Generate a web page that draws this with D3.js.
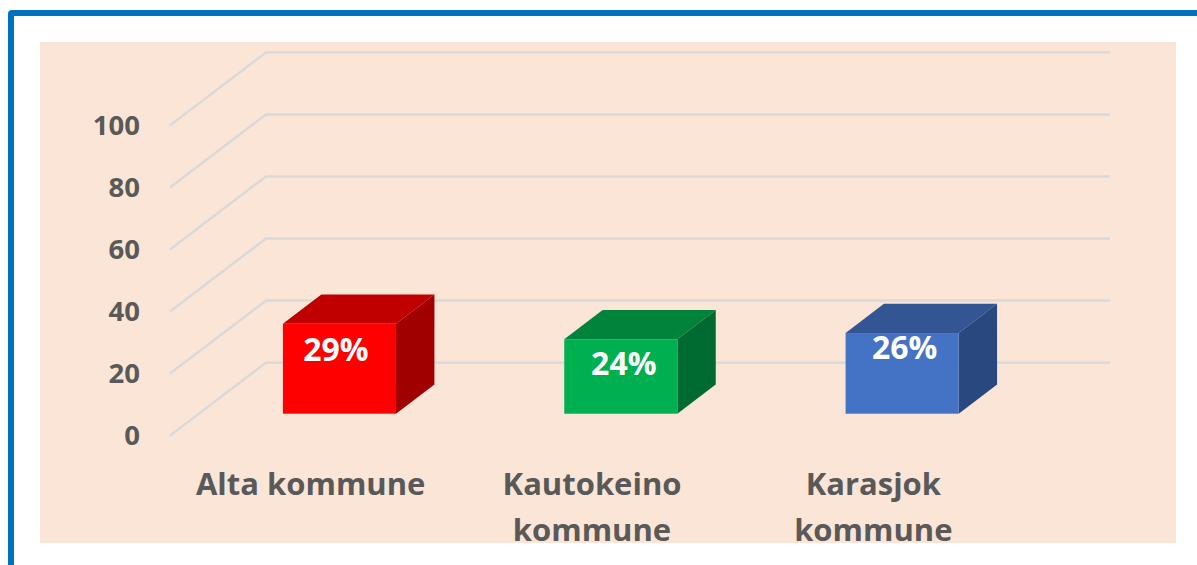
<!DOCTYPE html>
<html><head><meta charset="utf-8">
<script src="https://cdnjs.cloudflare.com/ajax/libs/d3/7.8.5/d3.min.js"></script>
<style>html,body{margin:0;padding:0;background:#fff;overflow:hidden}svg{display:block}
text{font-family:"Open Sans",sans-serif;font-weight:700}</style></head>
<body><svg id="c" width="1197" height="565"></svg>
<script>
const categories=[["Alta kommune"],["Kautokeino","kommune"],["Karasjok","kommune"]];
const values=[29,24,26];
const valueLabels=["29%","24%","26%"];
const tickValues=[0,20,40,60,80,100];
const frontColors=["#FF0000","#00B050","#4472C4"];
const topColors=["#C00000","#00843C","#335593"];
const sideColors=["#A00000","#006B30","#2A4880"];

const svg=d3.select("#c");
svg.append("defs").append("clipPath").attr("id","p").append("rect")
  .attr("x",40).attr("y",42).attr("width",1136).attr("height",501);
svg.append("path").attr("d","M10,565V13Q10,12 11,12H1197").attr("fill","none").attr("stroke","#0070C0").attr("stroke-width",6)
  .attr("transform","translate(1,1)");
svg.append("rect").attr("x",40).attr("y",42).attr("width",1136).attr("height",501).attr("fill","#FBE5D6");

const y=d3.scaleLinear().domain([0,100]).range([435.6,125.4]);
const x=d3.scaleBand().domain(d3.range(categories.length)).range([170,1014]).paddingInner(.598).paddingOuter(.299);
const depthX=96,depthY=-73,floorFrac=.3,barFrac=.4;
const chart=svg.append("g").attr("clip-path","url(#p)");

chart.append("g").selectAll("path").data(tickValues).join("path")
  .attr("d",d=>{const p=d3.path();p.moveTo(x.range()[0],y(d));p.lineTo(x.range()[0]+depthX,y(d)+depthY);p.lineTo(x.range()[1]+depthX,y(d)+depthY);return p;})
  .attr("fill","none").attr("stroke","#D9D9D9").attr("stroke-width",2.4);

const axis=d3.axisLeft(y).tickValues(tickValues).tickSize(0).tickPadding(0);
const ag=chart.append("g").attr("transform","translate(140,-1)").call(axis);
ag.select(".domain").remove();
ag.selectAll("text").attr("font-size",27.5).attr("fill","#595959").attr("dy","0.36em")
  .style("font-family",'"Open Sans",sans-serif').style("font-weight",700);

const bars=chart.append("g").selectAll("g").data(values).join("g");
const ox=floorFrac*depthX, oy=floorFrac*depthY, bx=barFrac*depthX, by=barFrac*depthY;
const poly=pts=>{const p=d3.path();pts.forEach((q,i)=>i?p.lineTo(q[0],q[1]):p.moveTo(q[0],q[1]));p.closePath();return p;};
const geo=(v,i)=>({l:x(i)+ox,r:x(i)+ox+x.bandwidth(),t:y(v)+oy,b:y(0)+oy});
bars.append("path").attr("d",(v,i)=>{const g=geo(v,i);return poly([[g.l,g.t],[g.r,g.t],[g.r+bx,g.t+by],[g.l+bx,g.t+by]]);})
  .attr("fill",(v,i)=>topColors[i]);
bars.append("path").attr("d",(v,i)=>{const g=geo(v,i);return poly([[g.r,g.t],[g.r,g.b],[g.r+bx,g.b+by],[g.r+bx,g.t+by]]);})
  .attr("fill",(v,i)=>sideColors[i]);
bars.append("rect").attr("x",(v,i)=>geo(v,i).l).attr("y",(v,i)=>geo(v,i).t)
  .attr("width",x.bandwidth()).attr("height",(v,i)=>geo(v,i).b-geo(v,i).t).attr("fill",(v,i)=>frontColors[i]);

const labelShiftX=[-3.5,3,2.5], labelBaseline=[361,375,359];
bars.append("text").text((v,i)=>valueLabels[i]).attr("text-anchor","middle")
  .attr("x",(v,i)=>(geo(v,i).l+geo(v,i).r)/2+labelShiftX[i]).attr("y",(v,i)=>labelBaseline[i])
  .attr("font-size",32).attr("fill","#fff");

const catG=chart.append("g").selectAll("text").data(categories).join("text")
  .attr("text-anchor","middle").attr("font-size",31).attr("fill","#595959");
catG.each(function(lines,i){
  d3.select(this).selectAll("tspan").data(lines).join("tspan")
    .attr("x",x(i)+x.bandwidth()/2).attr("y",(d,j)=>495+j*46).text(d=>d);
});
</script></body></html>
